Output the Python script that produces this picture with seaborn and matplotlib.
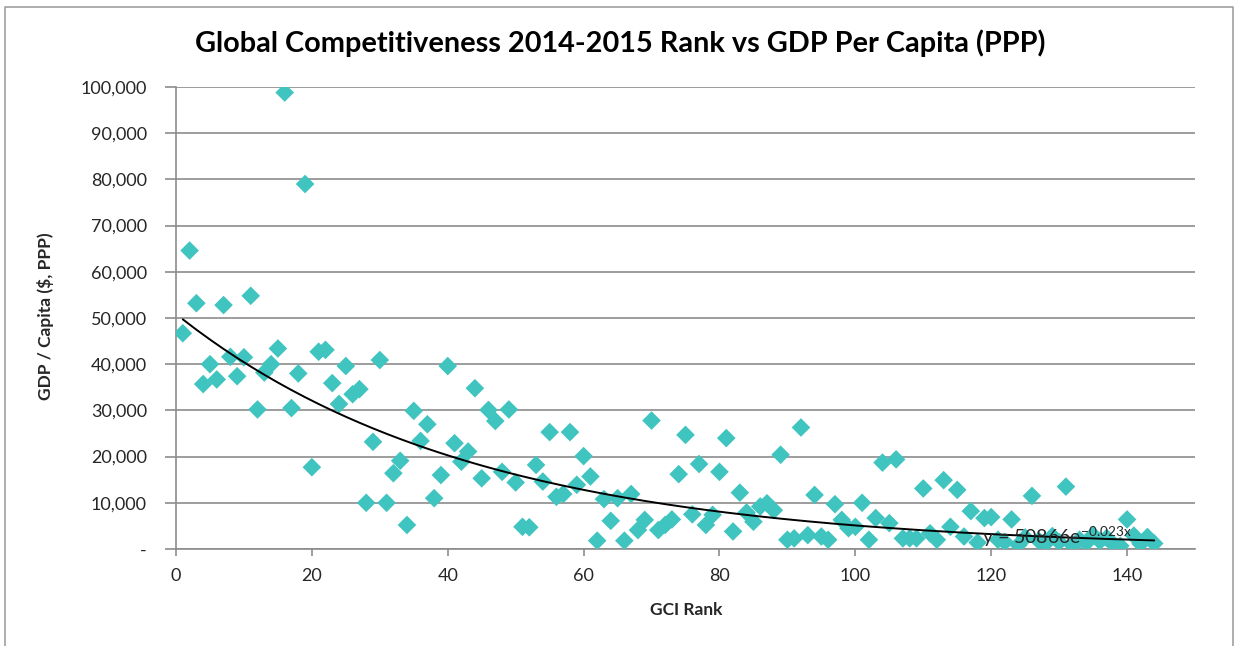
import numpy as np
import pandas as pd
import matplotlib
matplotlib.use("Agg")
import matplotlib.pyplot as plt
import seaborn as sns
from matplotlib.ticker import FuncFormatter
from matplotlib.lines import Line2D

# ---- data ----
gci_rank = list(range(1, 145))
gdp_per_capita = [
    46700, 64600, 53200, 35700, 40000, 36700, 52800, 41600, 37400, 41500,
    54800, 30200, 38200, 40000, 43400, 98800, 30500, 38000, 79000, 17700,
    42700, 43100, 35900, 31400, 39600, 33500, 34600, 10000, 23200, 40900,
    10000, 16400, 19100, 5200, 29900, 23400, 27000, 11000, 16000, 39600,
    22900, 18900, 21100, 34800, 15300, 30100, 27700, 16700, 30200, 14400,
    4800, 4700, 18200, 14600, 25300, 11300, 11900, 25300, 13900, 20100,
    15700, 1800, 10800, 6100, 11000, 1800, 11900, 4100, 6300, 27800,
    4100, 5200, 6400, 16200, 24700, 7500, 18400, 5200, 7400, 16700,
    24000, 3800, 12200, 7900, 5900, 9200, 9900, 8400, 20400, 2000,
    2300, 26300, 3000, 11700, 2700, 2000, 9700, 6300, 4500, 4800,
    10000, 2000, 6700, 18700, 5600, 19400, 2300, 2300, 2300, 13100,
    3400, 2000, 14900, 4800, 12800, 2700, 8200, 1400, 6700, 6900,
    2000, 1500, 6400, 900, 2500, 11500, 1800, 1200, 2800, 1500,
    13500, 800, 2000, 1300, 3000, 1700, 2400, 1000, 700, 6400,
    2900, 1100, 2600, 1200,
]
trend_a = 50866
trend_b = -0.023
title = "Global Competitiveness 2014-2015 Rank vs GDP Per Capita (PPP)"
x_label = "GCI Rank"
y_label = "GDP / Capita ($, PPP)"
x_ticks = [0, 20, 40, 60, 80, 100, 120, 140]
y_ticks = list(range(0, 100001, 10000))

df = pd.DataFrame({"rank": gci_rank, "gdp": gdp_per_capita})
trend_x = np.array(gci_rank, dtype=float)
trend_df = pd.DataFrame({"rank": trend_x, "fit": trend_a * np.exp(trend_b * trend_x)})

# ---- styling ----
sns.set_theme(style="white")
plt.rcParams["font.family"] = ["Lato", "DejaVu Sans"]
plt.rcParams["mathtext.fontset"] = "custom"
plt.rcParams["mathtext.rm"] = "Lato"
plt.rcParams["mathtext.it"] = "Lato"
plt.rcParams["axes.unicode_minus"] = False

W, H = 1239, 646
fig = plt.figure(figsize=(W / 100, H / 100), dpi=100)
ax = fig.add_axes([176 / W, 1 - 549 / H, (1195 - 176) / W, (549 - 87) / H])

point_color = "#40C4C0"
grid_color = "#8C8C8C"
text_color = "#262626"

sns.scatterplot(data=df, x="rank", y="gdp", marker="D", s=90, color=point_color,
                edgecolor="none", linewidth=0, ax=ax, zorder=3)
sns.lineplot(data=trend_df, x="rank", y="fit", color="black", linewidth=1.4,
             ax=ax, zorder=4)

ax.set_xlim(0, 150)
ax.set_ylim(0, 100000)
ax.set_xticks(x_ticks)
ax.set_yticks(y_ticks)
ax.yaxis.set_major_formatter(FuncFormatter(lambda v, p: "-" if v == 0 else f"{int(v):,}"))
ax.yaxis.grid(True, color=grid_color, linewidth=1.2)
ax.xaxis.grid(False)
ax.set_axisbelow(True)

for side in ["top", "right"]:
    ax.spines[side].set_visible(False)
for side in ["left", "bottom"]:
    ax.spines[side].set_color(grid_color)
    ax.spines[side].set_linewidth(1.2)

ax.tick_params(axis="y", which="major", left=True, length=8, width=1.2, color=grid_color,
               labelsize=13, labelcolor=text_color, pad=13)
ax.tick_params(axis="x", which="major", bottom=True, length=5, width=1.2, color=grid_color,
               labelsize=13, labelcolor=text_color, pad=9)

ax.set_xlabel("")
ax.set_ylabel("")
fig.text(686 / W, 1 - 610 / H, x_label, ha="center", va="center",
         fontsize=12.5, fontweight="bold", color=text_color)
fig.text(46 / W, 1 - 316 / H, y_label, ha="center", va="center", rotation=90,
         fontsize=12.5, fontweight="bold", color=text_color)

fig.text(620 / W, 1 - 43 / H, title, ha="center", va="center",
         fontsize=20.8, fontweight="bold", color="black")

ax.text(118.6, 2700, r"y = 50866e$^{-0.023x}$", fontsize=14, color=text_color,
        ha="left", va="center", zorder=5)

# outer chart-area frame (left, top, right; bottom lies below the image)
frame_color = "#A0A0A0"
fx = [5 / W, 5 / W, 1233 / W, 1233 / W]
fy = [0.0, 1 - 7 / H, 1 - 7 / H, 0.0]
fig.add_artist(Line2D(fx, fy, transform=fig.transFigure, color=frame_color, linewidth=1.2))

fig.savefig("out.png", dpi=100)
